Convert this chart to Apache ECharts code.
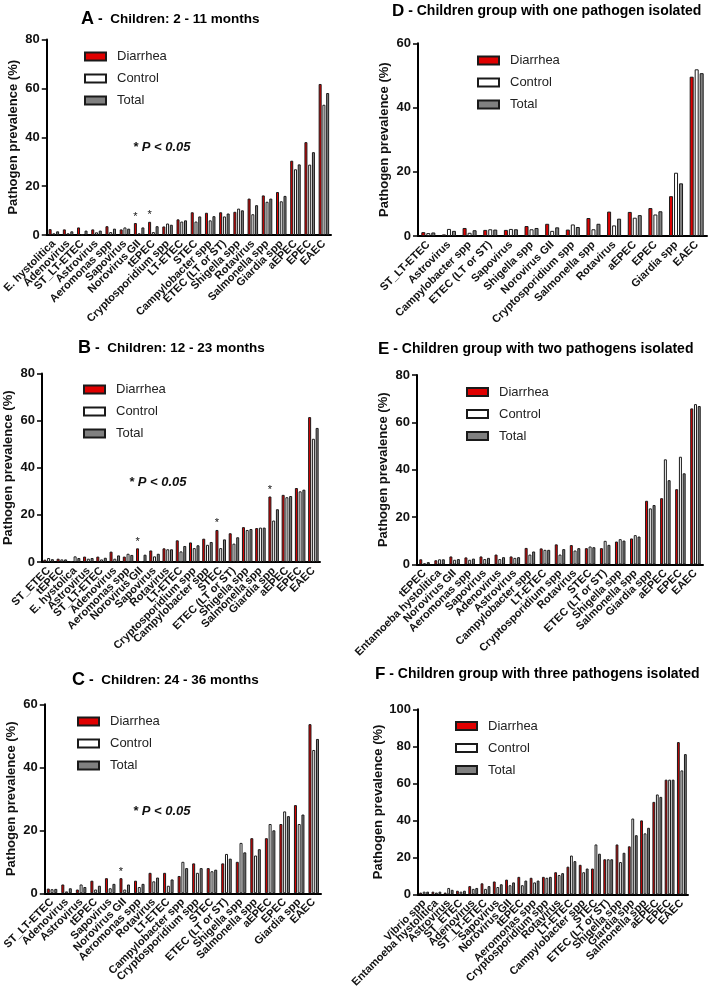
<!DOCTYPE html>
<html><head><meta charset="utf-8">
<script src="https://cdn.jsdelivr.net/npm/echarts@6/dist/echarts.min.js"></script>
<style>html,body{margin:0;padding:0;background:#fff}#c{width:711px;height:990px}</style>
</head><body><div id="c"></div>
<script>
// ---- Panel A: Children 2-11 months
const catsA = ['E. hystolitica','Adenovirus','ST_LT-ETEC','Astrovirus','Aeromonas spp','Sapovirus','Norovirus GII','tEPEC','Cryptosporidium spp','LT-ETEC','STEC','Campylobacter spp','ETEC (LT or ST)','Shigella spp','Rotavirus','Salmonella spp','Giardia spp','aEPEC','EPEC','EAEC'];
const diaA = [2.4,2.3,3.1,2.3,3.6,2.3,4.9,5.4,3.5,6.4,9.3,9.1,9.3,9.5,14.9,16.2,17.6,30.4,38.0,61.8];
const ctlA = [0.7,0.7,0.1,1.1,1.2,3.1,0.7,1.2,4.7,5.5,5.5,6.0,7.6,10.8,8.5,13.6,13.8,26.9,28.8,53.3];
const totA = [1.5,1.5,1.8,1.8,2.6,2.6,3.1,3.6,4.2,6.0,7.6,7.7,8.8,10.1,12.2,14.9,16.0,28.9,33.9,58.1];
const starsA = ['Norovirus GII','tEPEC'];
// ---- Panel B: Children 12-23 months
const catsB = ['ST_ETEC','tEPEC','E. hystolica','Astrovirus','ST_LT-ETEC','Adenovirus','Aeromonas spp','Norovirus GII','Sapovirus','Rotavirus','LT-ETEC','Cryptosporidium spp','Campylobacter spp','STEC','ETEC (LT or ST)','Shigella spp','Salmonella spp','Giardia spp','aEPEC','EPEC','EAEC'];
const diaB = [1.0,1.4,0.3,2.3,2.3,4.4,2.3,5.8,4.9,5.8,9.2,8.3,9.9,13.6,12.2,14.8,14.4,27.8,28.5,31.4,61.5];
const ctlB = [1.7,1.1,2.4,1.4,1.1,1.4,3.5,0.3,2.4,5.4,4.5,5.9,7.3,5.9,7.8,13.6,14.6,17.6,27.5,30.0,52.3];
const totB = [1.2,1.1,1.7,1.7,1.8,2.8,3.0,3.1,3.5,5.4,6.8,7.1,8.5,9.6,10.5,14.0,14.6,22.4,28.0,30.7,56.9];
const starsB = ['Norovirus GII','STEC','Giardia spp'];
// ---- Panel C: Children 24-36 months
const catsC = ['ST_LT-ETEC','Adenovirus','Astrovirus','tEPEC','Sapovirus','Norovirus GII','Aeromonas spp','Rotavirus','LT-ETEC','Campylobacter spp','Cryptosporidium spp','STEC','ETEC (LT or ST)','Shigella spp','Salmonella spp','aEPEC','EPEC','Giardia spp','EAEC'];
const diaC = [1.5,2.8,1.2,4.0,4.8,4.8,4.0,6.5,6.5,5.5,9.5,8.0,9.5,10.0,17.5,17.5,22.0,28.0,53.7];
const ctlC = [1.3,0.6,2.8,1.2,1.6,1.2,2.0,3.8,2.4,10.0,6.5,7.0,12.5,16.0,12.0,22.0,26.0,22.0,45.5];
const totC = [1.4,1.6,2.0,2.4,3.0,2.8,3.0,5.0,4.4,8.0,8.0,7.5,11.0,13.0,14.0,20.0,24.5,25.0,49.0];
const starsC = ['Norovirus GII'];
// ---- Panel D: one pathogen isolated
const catsD = ['ST_LT-ETEC','Astrovirus','Campylobacter spp','ETEC (LT or ST)','Sapovirus','Shigella spp','Norovirus GII','Cryptosporidium spp','Salmonella spp','Rotavirus','aEPEC','EPEC','Giardia spp','EAEC'];
const diaD = [1.2,0.5,2.5,1.9,1.9,3.1,3.8,2.0,5.6,7.6,7.5,8.7,12.4,49.6];
const ctlD = [0.9,2.2,1.0,2.1,2.2,2.1,1.6,3.6,2.1,3.3,5.7,6.7,19.7,51.9];
const totD = [1.1,1.6,1.8,2.0,2.1,2.5,2.7,2.8,3.8,5.4,6.5,7.7,16.4,50.7];
// ---- Panel E: two pathogens isolated
const catsE = ['tEPEC','Entamoeba hystolitica','Norovirus GII','Aeromonas spp','Sapovirus','Adenovirus','Astrovirus','Campylobacter spp','LT-ETEC','Cryptosporidium spp','Rotavirus','STEC','ETEC (LT or ST)','Shigella spp','Salmonella spp','Giardia spp','aEPEC','EPEC','EAEC'];
const diaE = [2.2,1.8,3.4,3.0,3.4,4.2,3.4,7.0,6.8,8.5,8.2,6.9,6.9,9.7,11.0,26.9,28.0,31.8,65.9];
const ctlE = [0.5,2.2,2.0,2.0,2.3,2.3,2.8,4.2,6.2,4.2,5.9,7.6,10.0,10.7,12.4,23.7,44.4,45.5,67.7];
const totE = [1.0,2.2,2.3,2.5,2.8,3.1,3.1,5.5,6.2,6.5,6.9,7.3,8.3,10.1,11.8,25.1,35.6,38.5,66.9];
// ---- Panel F: three pathogens isolated
const catsF = ['Vibrio spp','Entamoeba hystolitica','Astrovirus','ST_ETEC','Adenovirus','ST_LT-ETEC','Sapovirus','Norovirus GII','tEPEC','Aeromonas spp','Cryptosporidium spp','Rotavirus','LT-ETEC','Campylobacter spp','STEC','ETEC (LT or ST)','Shigella spp','Giardia spp','Salmonella spp','aEPEC','EPEC','EAEC'];
const diaF = [1.0,1.5,1.0,2.0,4.5,6.0,7.0,8.0,9.5,9.0,9.5,12.0,15.0,16.0,14.0,19.0,27.0,26.0,40.0,50.0,62.0,82.3];
const ctlF = [1.5,1.0,3.5,1.5,3.0,3.0,4.0,5.0,5.0,6.5,9.0,10.5,21.0,12.0,27.0,19.0,17.5,41.0,33.0,54.0,62.0,67.0];
const totF = [1.5,1.5,2.5,2.0,3.5,4.5,5.5,6.5,7.5,7.5,9.5,11.5,18.0,14.0,22.0,19.0,22.5,32.0,36.0,52.7,62.0,75.8];

const FONT = 'Liberation Sans, Arial, Helvetica, sans-serif';
const panels = [
  {L:'A', t:'Children: 2 - 11 months', cats:catsA, d:diaA, c:ctlA, s:totA, stars:starsA, max:80,
   grid:{left:42, top:39.5, width:289, height:195.5}, bw:3, title:[76,5], leg:[79,45], p:[133,141]},
  {L:'B', t:'Children: 12 - 23 months', cats:catsB, d:diaB, c:ctlB, s:totB, stars:starsB, max:80,
   grid:{left:42, top:373.5, width:278, height:188.5}, bw:3, title:[73,334], leg:[78,378], p:[129,476]},
  {L:'C', t:'Children: 24 - 36 months', cats:catsC, d:diaC, c:ctlC, s:totC, stars:starsC, max:60,
   grid:{left:42, top:704.3, width:279, height:189}, bw:3, title:[67,666], leg:[72,710], p:[133,805]},
  {L:'D', t:'- Children group with one pathogen isolated', cats:catsD, d:diaD, c:ctlD, s:totD, stars:[], max:60,
   grid:{left:418, top:43.3, width:289, height:192.7}, bw:4, title:[387,-2], leg:[472,49], p:null},
  {L:'E', t:'- Children group with two pathogens isolated', cats:catsE, d:diaE, c:ctlE, s:totE, stars:[], max:80,
   grid:{left:417, top:375, width:286, height:189.5}, bw:3, title:[373,336], leg:[461,380.5], p:null},
  {L:'F', t:'- Children group with three pathogens isolated', cats:catsF, d:diaF, c:ctlF, s:totF, stars:[], max:100,
   grid:{left:418, top:709.3, width:270, height:189}, bw:2.8, title:[370,661], leg:[450,714.5], p:null}
];

const grids=[], xAxes=[], yAxes=[], series=[], legends=[], titles=[], graphics=[];
const styles = [
  {name:'Diarrhea', color:'#e00000'},
  {name:'Control', color:'#ffffff'},
  {name:'Total', color:'#808080'}
];
panels.forEach((p,i)=>{
  grids.push(p.grid);
  xAxes.push({type:'category', gridIndex:i, data:p.cats,
    axisLine:{lineStyle:{color:'#000', width:2}},
    axisTick:{alignWithLabel:true, length:5, lineStyle:{color:'#000', width:1.5}},
    axisLabel:{interval:0, rotate:45, fontSize:11, fontWeight:'bold', color:'#111', fontFamily:FONT, margin:7}
  });
  yAxes.push({type:'value', gridIndex:i, min:0, max:p.max, interval:20,
    name:'Pathogen prevalence (%)', nameLocation:'middle', nameGap:27,
    nameTextStyle:{fontSize:13, fontWeight:'bold', color:'#111', fontFamily:FONT},
    axisLine:{show:true, lineStyle:{color:'#000', width:2}},
    axisTick:{show:true, length:5, lineStyle:{color:'#000', width:1.5}},
    axisLabel:{fontSize:13, fontWeight:'bold', color:'#111', fontFamily:FONT, margin:7},
    splitLine:{show:false}
  });
  const vals=[p.d,p.c,p.s];
  styles.forEach((st,k)=>{
    series.push({type:'bar', name:st.name, xAxisIndex:i, yAxisIndex:i,
      barWidth:p.bw, barGap:'25%',
      itemStyle:{color:st.color, borderColor:'#1a1a1a', borderWidth:1},
      data: vals[k].map((v,j)=> (k===0 && p.stars.indexOf(p.cats[j])>=0) ?
        {value:v, label:{show:true, position:'top', formatter:'*', fontSize:11, color:'#111', distance:1}} : v)
    });
  });
  legends.push({orient:'vertical', left:p.leg[0], top:p.leg[1], itemWidth:21, itemHeight:8, itemGap:9,
    icon:'rect', selectedMode:false, data:['Diarrhea','Control','Total'],
    textStyle:{fontSize:13, color:'#222', fontFamily:FONT, padding:[0,0,0,6]}});
  titles.push({left:p.title[0], top:p.title[1], text:'{a|'+p.L+'}{b|'+(i<3?' -  ':' ')+'}{c|'+p.t+'}',
    textStyle:{rich:{
      a:{fontSize:i<3?18:17, fontWeight:'bold', color:'#000', fontFamily:FONT},
      b:{fontSize:14, fontWeight:'bold', color:'#000', fontFamily:FONT},
      c:{fontSize:i<3?13.5:14, fontWeight:'bold', color:'#000', fontFamily:FONT}}}});
  if(p.p){
    graphics.push({type:'text', left:p.p[0], top:p.p[1], style:{text:'* P < 0.05', fill:'#111', font:'italic bold 13px '+FONT}});
  }
});

const chart = echarts.init(document.getElementById('c'), null, {renderer:'canvas'});
chart.setOption({
  animation:false, backgroundColor:'#fff',
  title:titles, legend:legends, grid:grids, xAxis:xAxes, yAxis:yAxes, series:series, graphic:graphics
});
</script></body></html>
